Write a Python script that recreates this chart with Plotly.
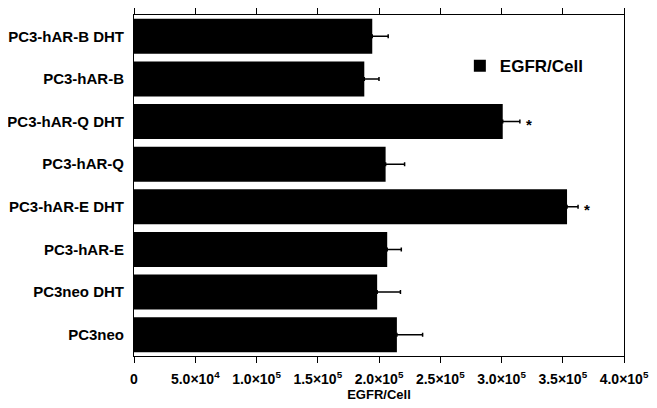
import plotly.graph_objects as go

categories = ["PC3neo", "PC3neo DHT", "PC3-hAR-E", "PC3-hAR-E DHT",
              "PC3-hAR-Q", "PC3-hAR-Q DHT", "PC3-hAR-B", "PC3-hAR-B DHT"]
egfr_per_cell = [214600, 198500, 206700, 353500, 205400, 301000, 188000, 194500]
egfr_err = [21000, 19000, 11500, 9000, 15500, 14000, 12000, 13000]
significant = [False, False, False, True, False, True, False, False]

tick_vals = [0, 50000, 100000, 150000, 200000, 250000, 300000, 350000, 400000]
tick_text = ["0", "5.0×10<sup>4</sup>", "1.0×10<sup>5</sup>", "1.5×10<sup>5</sup>",
             "2.0×10<sup>5</sup>", "2.5×10<sup>5</sup>", "3.0×10<sup>5</sup>",
             "3.5×10<sup>5</sup>", "4.0×10<sup>5</sup>"]

FONT = "Liberation Sans"

fig = go.Figure()
fig.add_trace(go.Bar(
    y=categories, x=egfr_per_cell, orientation="h",
    name="EGFR/Cell",
    marker=dict(color="black", line=dict(width=0)),
    error_x=dict(type="data", symmetric=False, array=egfr_err,
                 arrayminus=[0] * len(egfr_err),
                 color="black", thickness=1.5, width=2),
))

annotations = []
for c, v, e, s in zip(categories, egfr_per_cell, egfr_err, significant):
    if s:
        annotations.append(dict(x=v + e, y=c, xref="x", yref="y", text="<b>*</b>",
                                showarrow=False, xanchor="left", xshift=4, yshift=-3,
                                font=dict(family=FONT, size=15, color="black")))

# page body has an 8px default margin, so the figure is 8px smaller
fig.update_layout(
    width=649, height=400,
    margin=dict(l=126, r=33, t=7, b=52),
    paper_bgcolor="white", plot_bgcolor="white",
    bargap=0.18,
    font=dict(family=FONT, color="black"),
    showlegend=True,
    legend=dict(x=0.665, y=0.85, xanchor="left", yanchor="middle",
                bgcolor="rgba(0,0,0,0)", font=dict(family=FONT, size=17, color="black",
                                                     weight="bold"),
                itemwidth=30),
    annotations=annotations,
    xaxis=dict(range=[0, 400000], tickvals=tick_vals, ticktext=tick_text,
               ticks="outside", ticklen=6, tickwidth=1, tickcolor="black",
               showline=True, linecolor="black", linewidth=1, mirror="ticks",
               showgrid=False, zeroline=False, automargin=False,
               ticklabelstandoff=4,
               tickfont=dict(family=FONT, size=14, color="black", weight="bold"),
               title=dict(text="<b>EGFR/Cell</b>", standoff=4,
                          font=dict(family=FONT, size=13, color="black"))),
    yaxis=dict(showline=True, linecolor="black", linewidth=1, mirror=True,
               ticks="", showgrid=False, ticklabelstandoff=6, automargin=False,
               tickfont=dict(family=FONT, size=15, color="black", weight="bold")),
)

fig.write_html("out.html")
